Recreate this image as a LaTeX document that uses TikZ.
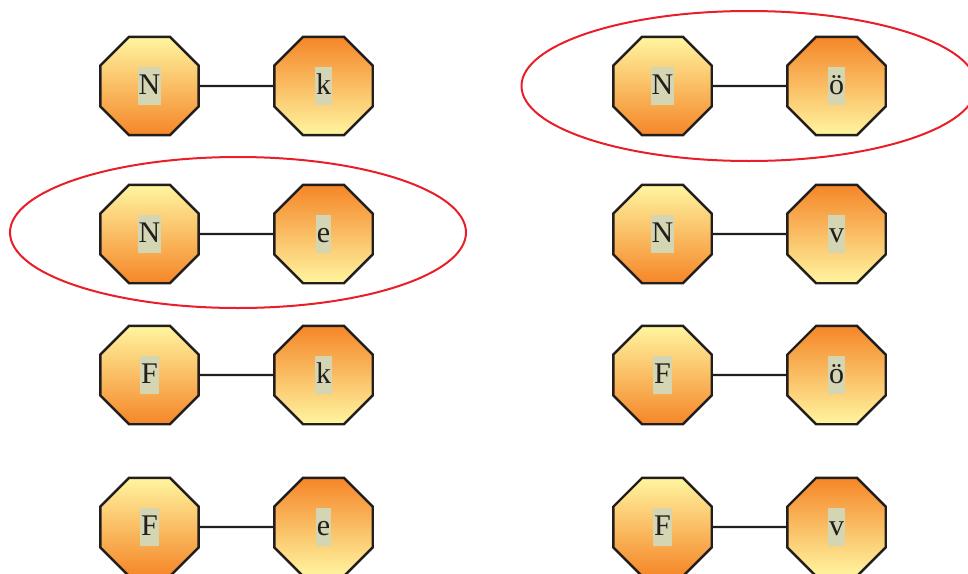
\documentclass[tikz,border=0pt]{standalone}
\usepackage{fontspec}
\setmainfont{Liberation Serif}
\usetikzlibrary{shapes.geometric}
\definecolor{lightyel}{RGB}{255,245,160}
\definecolor{deeporange}{RGB}{245,134,40}
\definecolor{lblbg}{RGB}{211,213,179}
\definecolor{ringred}{RGB}{232,30,40}
\definecolor{inkdark}{RGB}{34,30,30}
\newcommand{\boxlbl}[1]{{\setlength\fboxsep{0pt}\colorbox{lblbg}{\rule[-10pt]{0pt}{37.5pt}\kern1pt#1\kern1pt}}}
\tikzset{
  octa/.style={regular polygon, regular polygon sides=8, minimum size=106.5pt, inner sep=0pt,
    draw=inkdark, line width=2.4pt, text=inkdark,
    font=\fontsize{30}{36}\selectfont},
  upoct/.style={octa, top color=lightyel, bottom color=deeporange},
  downoct/.style={octa, top color=deeporange, bottom color=lightyel},
  link/.style={draw=inkdark, line width=2.2pt},
  ring/.style={ellipse, draw=ringred, line width=2pt, inner sep=0pt}
}
\begin{document}
\begin{tikzpicture}[x=1pt,y=-1pt]
\useasboundingbox (0,0) rectangle (968,573);
% left column
\node[upoct] (a1) at (149.5,86) {\boxlbl{N}};
\node[downoct] (b1) at (323.5,86) {\boxlbl{k}};
\node[upoct] (a2) at (149.5,234) {\boxlbl{N}};
\node[downoct] (b2) at (323.5,234) {\boxlbl{e}};
\node[upoct] (a3) at (149.5,375) {\boxlbl{F}};
\node[downoct] (b3) at (323.5,375) {\boxlbl{k}};
\node[upoct] (a4) at (149.5,527) {\boxlbl{F}};
\node[downoct] (b4) at (323.5,527) {\boxlbl{e}};
% right column
\node[upoct] (c1) at (662.5,86) {\boxlbl{N}};
\node[downoct] (d1) at (836.5,86) {\boxlbl{ö}};
\node[upoct] (c2) at (662.5,234) {\boxlbl{N}};
\node[downoct] (d2) at (836.5,234) {\boxlbl{v}};
\node[upoct] (c3) at (662.5,375) {\boxlbl{F}};
\node[downoct] (d3) at (836.5,375) {\boxlbl{ö}};
\node[upoct] (c4) at (662.5,527) {\boxlbl{F}};
\node[downoct] (d4) at (836.5,527) {\boxlbl{v}};
% links
\foreach \p/\q in {a1/b1,a2/b2,a3/b3,a4/b4,c1/d1,c2/d2,c3/d3,c4/d4}
  \draw[link] (\p) -- (\q);
% highlight rings
\node[ring, minimum width=455pt, minimum height=150pt] (g1) at (749,86) {};
\node[ring, minimum width=456pt, minimum height=151pt] (g2) at (238,232.5) {};
\end{tikzpicture}
\end{document}
